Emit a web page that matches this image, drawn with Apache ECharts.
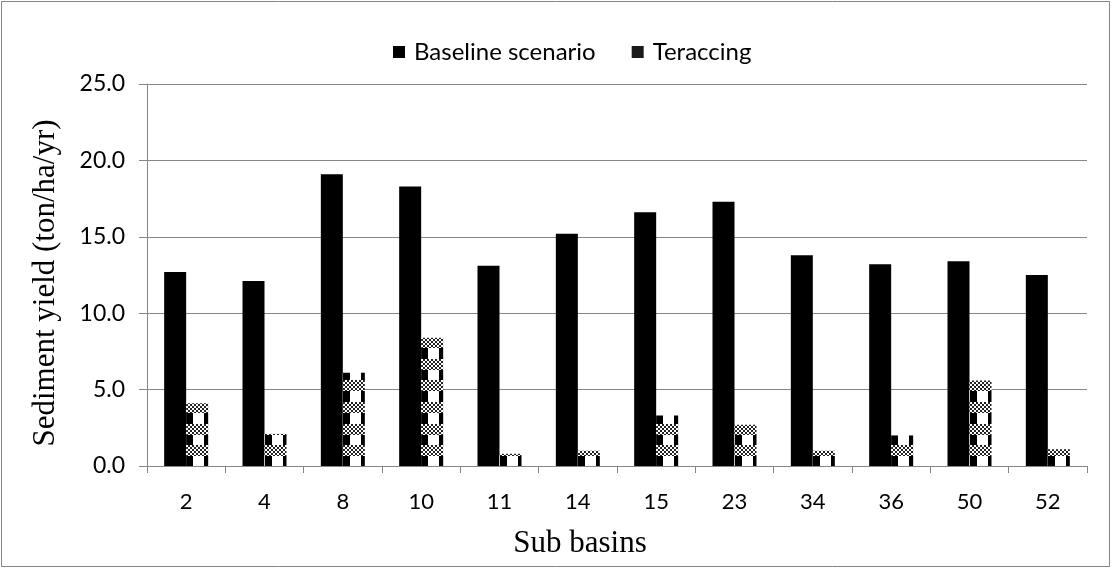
<!DOCTYPE html>
<html>
<head>
<meta charset="utf-8">
<script src="https://cdn.jsdelivr.net/npm/echarts@6/dist/echarts.min.js"></script>
<style>
  html, body { margin: 0; padding: 0; background: #fff; }
  #chart { width: 1112px; height: 569px; }
</style>
</head>
<body>
<div id="chart"></div>
<script>
// Sediment yield per sub basin, baseline vs. terracing
const categories = ['2', '4', '8', '10', '11', '14', '15', '23', '34', '36', '50', '52'];
const baseline = [12.7, 12.1, 19.1, 18.3, 13.1, 15.2, 16.6, 17.3, 13.8, 13.2, 13.4, 12.5];
const terracing = [4.1, 2.1, 6.1, 8.4, 0.8, 1.0, 3.3, 2.7, 1.0, 2.0, 5.6, 1.1];
const yTicks = [0, 5, 10, 15, 20, 25];

// plot area layout
const GRID_LEFT = 147, GRID_TOP = 84, GRID_RIGHT = 25, GRID_BOTTOM = 103;
const PLOT_W = 1112 - GRID_LEFT - GRID_RIGHT;
const BAND = PLOT_W / categories.length;
const BAR_W = 22;

// Hatched fill for the terracing series: checker rows alternating with
// vertical strips, laid out so each bar in a band shows the same motif.
function makeTerracePattern() {
  const W = Math.round(BAND * 3);
  const period = 21.67;
  const H = Math.round(period * 3);
  const c = document.createElement('canvas');
  c.width = W; c.height = H;
  const g = c.getContext('2d');
  g.fillStyle = '#fff';
  g.fillRect(0, 0, W, H);
  for (let i = 0; i < 3; i++) {
    const xs = Math.round((GRID_LEFT + BAND * i + (BAND - 2 * BAR_W) / 2 + BAR_W) % W);
    for (let dx = -W; dx <= W; dx += W) {
      const x0 = xs + dx;
      g.fillStyle = '#000';
      g.fillRect(x0, 0, 7, H);
      g.fillRect(x0 + 18, 0, 5, H);
    }
  }
  // checker rows across the whole tile
  for (let k = 0; k < 3; k++) {
    const y0 = Math.round(12 + period * k) % H;
    for (let y = 0; y < 11; y++) {
      for (let x = 0; x < W; x++) {
        const yy = (y0 + y) % H;
        const dark = ((Math.floor(x / 2) + Math.floor(y / 2)) % 2) === 0;
        g.fillStyle = dark ? '#222' : '#fff';
        g.fillRect(x, yy, 1, 1);
      }
    }
  }
  return c;
}

const terracePattern = { image: makeTerracePattern(), repeat: 'repeat' };

const chart = echarts.init(document.getElementById('chart'), null, { renderer: 'canvas' });

const labelFont = 'Lato';
const titleFont = '"Liberation Serif", "Times New Roman", serif';

chart.setOption({
  animation: false,
  backgroundColor: '#fff',
  graphic: [{
    type: 'rect',
    shape: { x: 1.5, y: 1.5, width: 1108, height: 565 },
    style: { fill: 'none', stroke: '#868686', lineWidth: 1 },
    silent: true
  }],
  legend: {
    left: 388,
    top: 35,
    itemWidth: 12,
    itemHeight: 12,
    itemGap: 36,
    icon: 'rect',
    textStyle: { fontFamily: labelFont, fontSize: 24, color: '#000', padding: [0, 0, 0, 4] },
    data: [
      { name: 'Baseline scenario', itemStyle: { color: '#000' } },
      { name: 'Teraccing', itemStyle: { color: '#1a1a1a' } }
    ]
  },
  grid: {
    left: GRID_LEFT, top: GRID_TOP, right: GRID_RIGHT, bottom: GRID_BOTTOM,
    outerBoundsMode: 'none'
  },
  xAxis: {
    type: 'category',
    data: categories,
    name: 'Sub basins',
    nameLocation: 'middle',
    nameGap: 62,
    nameTextStyle: { fontFamily: titleFont, fontSize: 31, color: '#000', padding: [0, 74, 0, 0] },
    axisLine: { show: true, lineStyle: { color: '#868686', width: 1 } },
    axisTick: { show: true, alignWithLabel: false, length: 7, lineStyle: { color: '#868686' } },
    axisLabel: { fontFamily: labelFont, fontSize: 22, color: '#000', margin: 25 },
    splitLine: { show: false }
  },
  yAxis: {
    type: 'value',
    min: yTicks[0],
    max: yTicks[yTicks.length - 1],
    interval: 5,
    name: 'Sediment yield (ton/ha/yr)',
    nameLocation: 'middle',
    nameGap: 86,
    nameTextStyle: { fontFamily: titleFont, fontSize: 31, color: '#000', padding: [0, 16, 0, 0] },
    axisLine: { show: true, lineStyle: { color: '#868686', width: 1 } },
    axisTick: { show: true, inside: false, length: 8, lineStyle: { color: '#868686' } },
    axisLabel: {
      fontFamily: labelFont, fontSize: 23, color: '#000', margin: 22,
      formatter: v => v.toFixed(1)
    },
    splitLine: { show: true, lineStyle: { color: '#868686', width: 1 } }
  },
  series: [
    {
      name: 'Baseline scenario',
      type: 'bar',
      data: baseline,
      barWidth: BAR_W,
      barGap: '0%',
      itemStyle: { color: '#000' }
    },
    {
      name: 'Teraccing',
      type: 'bar',
      data: terracing,
      barWidth: BAR_W,
      barGap: '0%',
      itemStyle: { color: terracePattern }
    }
  ]
});
</script>
</body>
</html>
